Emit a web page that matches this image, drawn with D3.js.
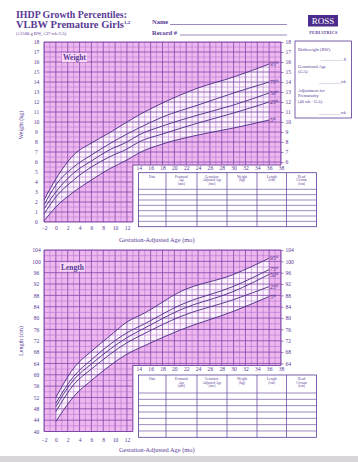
<!DOCTYPE html>
<html><head><meta charset="utf-8">
<script src="https://cdn.jsdelivr.net/npm/d3@7"></script>
<style>
body{margin:0;background:#fff}
svg{display:block}
text{font-family:"Liberation Serif","DejaVu Serif",serif;fill:#5a3a96}
</style>
</head><body>
<svg id="c" width="358" height="462"></svg>
<script>
// ---------- DATA ----------
const percentiles = ["95", "75", "50", "25", "5"];

const weightAges = [-2, 0, 3, 6, 9, 12, 14, 18, 24, 30, 36];
const weightP95 = [2.2, 4.3, 6.7, 7.9, 8.9, 10.0, 10.7, 11.9, 13.4, 14.5, 15.8];
const weightP75 = [1.7, 3.7, 5.5, 6.7, 7.8, 8.8, 9.4, 10.5, 11.7, 12.9, 14.0];
const weightP50 = [1.3, 3.0, 4.9, 6.1, 7.2, 8.0, 8.7, 9.6, 10.7, 11.7, 12.9];
const weightP25 = [0.8, 2.5, 4.2, 5.5, 6.5, 7.3, 8.0, 8.8, 9.9, 10.9, 12.0];
const weightP5  = [0.1, 1.5, 3.0, 4.2, 5.3, 6.2, 6.9, 7.8, 8.7, 9.4, 10.2];

const lengthAges = [0, 3, 6, 9, 12, 15, 21, 30, 36];
const lengthP95 = [52.0, 62.3, 68.3, 73.5, 78.6, 81.8, 89.3, 95.4, 101.1];
const lengthP75 = [50.0, 59.4, 65.3, 70.5, 74.8, 78.0, 84.6, 91.2, 97.1];
const lengthP50 = [48.8, 58.2, 63.8, 68.8, 73.1, 76.5, 82.9, 89.4, 95.4];
const lengthP25 = [47.0, 56.5, 62.0, 67.0, 71.3, 74.6, 80.5, 86.5, 91.1];
const lengthP5  = [43.5, 52.3, 58.0, 63.0, 67.3, 70.3, 75.8, 82.4, 87.6];

const ageTicksLow  = [-2, 0, 2, 4, 6, 8, 10, 12];
const ageTicksHigh = [14, 16, 18, 20, 22, 24, 26, 28, 30, 32, 34, 36, 38];
const weightTicksLeft  = [0,1,2,3,4,5,6,7,8,9,10,11,12,13,14,15,16,17,18];
const weightTicksRight = [6,7,8,9,10,11,12,13,14,15,16,17,18];
const lengthTicksLeft  = [40,44,48,52,56,60,64,68,72,76,80,84,88,92,96,100,104];
const lengthTicksRight = [64,68,72,76,80,84,88,92,96,100,104];

const tableHeaders = [["Date"], ["Postnatal","Age","(mo)"], ["Gestation-","Adjusted Age","(mo)"], ["Weight","(kg)"], ["Length","(cm)"], ["Head","Circum","(cm)"]];

// ---------- STYLE ----------
const PURPLE = "#5a3a96";
const CURVE = "#4a2a86";
const PINK = "#f0b6ef";
const GRID = "#a66cc8";
const GRIDMAJ = "#7c48a8";

const svg = d3.select("#c");
const x = d3.scaleLinear().domain([-2, 38]).range([44, 281]);

// ---------- HEADER ----------
svg.append("text").attr("x", 16).attr("y", 17.5).attr("font-size", 10.5).attr("font-weight", "bold")
  .attr("textLength", 111).attr("lengthAdjust", "spacingAndGlyphs").text("IHDP Growth Percentiles:");
const t2 = svg.append("text").attr("x", 16).attr("y", 28).attr("font-size", 10.5).attr("font-weight", "bold");
t2.append("tspan").text("VLBW Premature Girls");
t2.append("tspan").attr("font-size", 5).attr("dy", -4).text("1,2");
svg.append("text").attr("x", 16).attr("y", 35).attr("font-size", 4.6).text("(\u22641500 g BW, \u226437 wk GA)");
svg.append("text").attr("x", 152).attr("y", 24).attr("font-size", 6.5).attr("font-weight", "bold").text("Name");
svg.append("line").attr("x1", 170).attr("x2", 287).attr("y1", 24.5).attr("y2", 24.5).attr("stroke", PURPLE).attr("stroke-width", 0.6);
svg.append("text").attr("x", 152).attr("y", 34.5).attr("font-size", 6.5).attr("font-weight", "bold").text("Record #");
svg.append("line").attr("x1", 180).attr("x2", 287).attr("y1", 35).attr("y2", 35).attr("stroke", PURPLE).attr("stroke-width", 0.6);
svg.append("rect").attr("x", 308).attr("y", 15).attr("width", 30).attr("height", 11.5).attr("fill", "#4b2c8c");
svg.append("text").attr("x", 323).attr("y", 24.3).attr("text-anchor", "middle").attr("font-size", 9)
  .attr("font-family", "Liberation Sans, Arial, sans-serif").style("fill", "#fff").text("ROSS");
svg.append("text").attr("x", 323.5).attr("y", 33.5).attr("text-anchor", "middle").attr("font-size", 4.2)
  .attr("font-weight", "bold").attr("font-family", "Liberation Sans, Arial, sans-serif").attr("letter-spacing", 0.3).text("PEDIATRICS");

// ---------- RIGHT INFO BOX ----------
svg.append("rect").attr("x", 295).attr("y", 41).attr("width", 56.5).attr("height", 77)
  .attr("fill", "#fff").attr("stroke", PURPLE).attr("stroke-width", 0.8);
const infoLines = [
  {t: "Birthweight (BW):", y: 51},
  {t: "__________ g", y: 60, r: true},
  {t: "Gestational Age", y: 68},
  {t: "(GA):", y: 73},
  {t: "__________wk", y: 83, r: true},
  {t: "Adjustment for", y: 92},
  {t: "Prematurity", y: 97},
  {t: "(40 wk - GA):", y: 103},
  {t: "__________wk", y: 114, r: true}
];
infoLines.forEach(d => {
  svg.append("text").attr("x", d.r ? 346 : 298).attr("y", d.y).attr("font-size", 4.4)
    .attr("text-anchor", d.r ? "end" : "start").text(d.t);
});

// ---------- PANELS ----------
function drawPanel(cfg) {
  const g = svg.append("g");
  const y = d3.scaleLinear().domain(cfg.domain).range([cfg.yBot, cfg.yTop]);
  const [lo, hi] = cfg.domain;
  const shape = `M${x(-2)},${y(hi)}H${x(38)}V${y(cfg.cut)}H${x(cfg.cutAge)}V${y(lo)}H${x(-2)}Z`;
  g.append("clipPath").attr("id", cfg.id).append("path").attr("d", shape);
  g.append("path").attr("d", shape).attr("fill", PINK);

  const inner = g.append("g").attr("clip-path", `url(#${cfg.id})`);
  const rows = cfg.ages.map((a, i) => ({a, v: cfg.series.map(s => s[i])}));
  inner.append("path").datum(rows)
    .attr("d", d3.area().x(d => x(d.a)).y0(d => y(d.v[4])).y1(d => y(d.v[0])).curve(d3.curveMonotoneX))
    .attr("fill", "#fdf3fc");

  // grid
  const vMonths = d3.range(-2, 38.01, 1);
  inner.selectAll(".vg").data(vMonths).enter().append("line")
    .attr("x1", d => x(d)).attr("x2", d => x(d)).attr("y1", y(hi)).attr("y2", y(lo))
    .attr("stroke", d => (d % 2 === 0 ? GRIDMAJ : GRID)).attr("stroke-width", d => (d % 2 === 0 ? 0.8 : 0.5));
  const hVals = d3.range(lo, hi + 0.001, cfg.step);
  inner.selectAll(".hg").data(hVals).enter().append("line")
    .attr("x1", x(-2)).attr("x2", x(38)).attr("y1", d => y(d)).attr("y2", d => y(d))
    .attr("stroke", d => (Math.abs((d - lo) % cfg.major) < 1e-6 ? GRIDMAJ : GRID))
    .attr("stroke-width", d => (Math.abs((d - lo) % cfg.major) < 1e-6 ? 0.8 : 0.5));

  // curves
  cfg.series.forEach((s, k) => {
    inner.append("path").datum(cfg.ages.map((a, i) => [a, s[i]]))
      .attr("d", d3.line().x(d => x(d[0])).y(d => y(d[1])).curve(d3.curveMonotoneX))
      .attr("fill", "none").attr("stroke", CURVE).attr("stroke-width", 0.9);
  });

  g.append("path").attr("d", shape).attr("fill", "none").attr("stroke", GRIDMAJ).attr("stroke-width", 1);

  // percentile labels
  cfg.series.forEach((s, k) => {
    const t = g.append("text").attr("x", x(cfg.ages[cfg.ages.length - 1]) + 0.8)
      .attr("y", y(s[s.length - 1]) + 2 + (cfg.labelShift ? cfg.labelShift[k] : 0))
      .attr("font-size", 5.6).style("fill", CURVE);
    t.append("tspan").text(percentiles[k]);
    t.append("tspan").attr("font-size", 3.4).attr("dy", -2).text("th");
  });

  // left axis
  const la = g.append("g").attr("transform", `translate(${x(-2) - 7.5},0)`)
    .call(d3.axisLeft(y).tickValues(cfg.leftTicks).tickSize(0).tickPadding(0));
  la.select(".domain").remove();
  la.selectAll("text").attr("text-anchor", "middle").attr("font-size", 5.6)
    .attr("font-family", null).style("fill", PURPLE);

  // right axis
  const ra = g.append("g").attr("transform", `translate(${x(38)},0)`)
    .call(d3.axisRight(y).tickValues(cfg.rightTicks).tickSize(2.5).tickPadding(2));
  ra.select(".domain").remove();
  ra.selectAll("line").attr("stroke", GRIDMAJ).attr("stroke-width", 0.7);
  ra.selectAll("text").attr("font-size", 5.6).attr("font-family", null).style("fill", PURPLE);

  // bottom-left age axis
  const ba = g.append("g").attr("transform", `translate(0,${cfg.lowLabelY})`)
    .call(d3.axisBottom(x).tickValues(ageTicksLow).tickSize(0).tickPadding(0));
  ba.select(".domain").remove();
  ba.selectAll("text").attr("font-size", 5.6).attr("font-family", null).style("fill", PURPLE);

  // upper-right age axis (under the notch)
  const ta = g.append("g").attr("transform", `translate(0,${y(cfg.cut) + cfg.highLabelOff})`)
    .call(d3.axisBottom(x).tickValues(ageTicksHigh).tickSize(0).tickPadding(0));
  ta.select(".domain").remove();
  ta.selectAll("text").attr("font-size", 5.6).attr("font-family", null).style("fill", PURPLE);

  // title label box
  g.append("rect").attr("x", cfg.boxX).attr("y", cfg.boxY).attr("width", 25).attr("height", 9).attr("fill", "#f8d6f6");
  g.append("text").attr("x", cfg.boxX + 12.5).attr("y", cfg.boxY + 7).attr("text-anchor", "middle")
    .attr("font-size", 7.5).attr("font-weight", "bold").text(cfg.title);

  // y title
  g.append("text").attr("transform", `translate(${cfg.yTitleX},${cfg.yTitleY}) rotate(-90)`)
    .attr("text-anchor", "middle").attr("font-size", 6).text(cfg.yTitle);

  // x title
  g.append("text").attr("x", 119).attr("y", cfg.xTitleY).attr("font-size", 6.4).text("Gestation-Adjusted Age (mo)");

  // table
  const cols = [138.5, 166, 197, 227, 257, 286.5, 316.5];
  const tg = g.append("g");
  tg.append("rect").attr("x", cols[0]).attr("y", cfg.tTop).attr("width", cols[6] - cols[0])
    .attr("height", cfg.tBot - cfg.tTop).attr("fill", "#fff").attr("stroke", PURPLE).attr("stroke-width", 0.8);
  cols.slice(1, 6).forEach(c => tg.append("line").attr("x1", c).attr("x2", c).attr("y1", cfg.tTop).attr("y2", cfg.tBot)
    .attr("stroke", PURPLE).attr("stroke-width", 0.7));
  const nRows = 7;
  const rh = (cfg.tBot - cfg.tHead) / nRows;
  d3.range(0, nRows).forEach(i => tg.append("line").attr("x1", cols[0]).attr("x2", cols[6])
    .attr("y1", cfg.tHead + i * rh).attr("y2", cfg.tHead + i * rh).attr("stroke", PURPLE).attr("stroke-width", 0.6));
  tableHeaders.forEach((h, i) => {
    const cx = (cols[i] + cols[i + 1]) / 2;
    h.forEach((ln, j) => tg.append("text").attr("x", cx).attr("y", cfg.tTop + 5 + j * 3.6)
      .attr("text-anchor", "middle").attr("font-size", 3.5).text(ln));
  });
}

drawPanel({
  id: "clipW", domain: [0, 18], yTop: 42, yBot: 222, cut: 5.7, cutAge: 13, step: 0.5, major: 1,
  ages: weightAges, series: [weightP95, weightP75, weightP50, weightP25, weightP5],
  leftTicks: weightTicksLeft, rightTicks: weightTicksRight,
  lowLabelY: 226, highLabelOff: 1.5, title: "Weight", boxX: 62, boxY: 53,
  yTitle: "Weight (kg)", yTitleX: 22.5, yTitleY: 125, xTitleY: 241.5,
  tTop: 172.7, tHead: 189.3, tBot: 226.7
});

drawPanel({
  id: "clipL", domain: [40, 104], yTop: 250, yBot: 431.5, cut: 63.3, cutAge: 13, step: 2, major: 4,
  ages: lengthAges, series: [lengthP95, lengthP75, lengthP50, lengthP25, lengthP5],
  leftTicks: lengthTicksLeft, rightTicks: lengthTicksRight, labelShift: [0, -0.5, 0.5, 0, 0],
  lowLabelY: 438.5, highLabelOff: 1.5, title: "Length", boxX: 60, boxY: 262.5,
  yTitle: "Length (cm)", yTitleX: 23, yTitleY: 341, xTitleY: 451.5,
  tTop: 375, tHead: 393, tBot: 437.3
});

// scan edge shadow
svg.append("rect").attr("x", 0).attr("y", 456).attr("width", 358).attr("height", 6).attr("fill", "#d9d6da");
</script>
</body></html>
